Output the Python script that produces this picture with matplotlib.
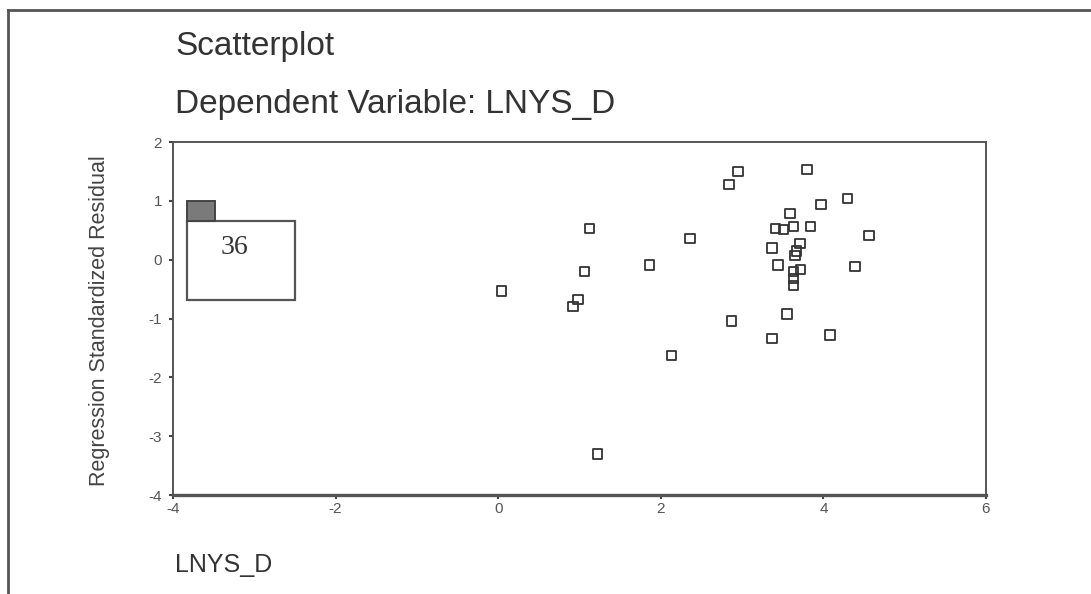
import matplotlib
matplotlib.use("Agg")
import matplotlib.pyplot as plt
from matplotlib.patches import Rectangle
from matplotlib.lines import Line2D

# Data
lnys_d = [0.04, 1.12, 1.06, 0.98, 0.92, 1.86, 2.36, 2.13, 1.22, 2.84, 2.95, 2.87,
          3.80, 3.97, 4.30, 3.59, 3.41, 3.51, 3.63, 3.84, 4.56, 3.71, 3.37, 3.67,
          3.65, 3.44, 3.72, 3.63, 3.63, 3.63, 4.39, 3.55, 3.37, 4.08]
std_resid = [-0.53, 0.53, -0.20, -0.68, -0.80, -0.09, 0.36, -1.63, -3.30, 1.28, 1.50, -1.04,
             1.53, 0.94, 1.04, 0.78, 0.53, 0.51, 0.56, 0.56, 0.41, 0.27, 0.20, 0.15,
             0.07, -0.09, -0.17, -0.20, -0.32, -0.44, -0.12, -0.92, -1.34, -1.28]
x_ticks = [-4, -2, 0, 2, 4, 6]
y_ticks = [2, 1, 0, -1, -2, -3, -4]
legend_label = "36"

plt.rcParams['font.family'] = ['Liberation Sans', 'DejaVu Sans']
fig = plt.figure(figsize=(10.91, 5.94), dpi=100)
fig.patch.set_facecolor('white')

ax = fig.add_axes([173/1091, 1-495/594, (986-173)/1091, (495-142)/594])
ax.scatter(lnys_d, std_resid, marker='s', s=46, facecolors='none',
           edgecolors='#333333', linewidths=1.3, zorder=3)
ax.set_xlim(-4, 6)
ax.set_ylim(-4, 2)
ax.set_xticks(x_ticks)
ax.set_yticks(y_ticks)
ax.set_xticklabels([str(t) for t in x_ticks])
ax.set_yticklabels([str(t) for t in y_ticks])
ax.tick_params(direction='out', length=3, width=1.5, color='#444444',
               labelsize=11, labelcolor='#555555')
ax.tick_params(axis='x', pad=2)
ax.tick_params(axis='y', pad=5)
for sp in ax.spines.values():
    sp.set_color('#555555')
    sp.set_linewidth(1.4)
ax.spines['bottom'].set_linewidth(2.4)

# legend-like box
ax.add_patch(Rectangle((0.0172, 0.552), 0.133, 0.224, transform=ax.transAxes,
                       facecolor='white', edgecolor='#555555', linewidth=1.6, zorder=4))
ax.add_patch(Rectangle((0.0172, 0.776), 0.0345, 0.057, transform=ax.transAxes,
                       facecolor='#7a7a7a', edgecolor='#444444', linewidth=1.4, zorder=4))
ax.text(0.076, 0.70, legend_label, transform=ax.transAxes, fontsize=20,
        family=['Liberation Serif', 'DejaVu Serif'], color='#333333',
        ha='center', va='center', zorder=5)

# titles / labels
fig.text(175/1091, 1-46/594, "Scatterplot", fontsize=24, color='#333333',
         ha='left', va='center')
fig.text(175/1091, 1-104/594, "Dependent Variable: LNYS_D", fontsize=24,
         color='#333333', ha='left', va='center')
fig.text(175/1091, 1-565/594, "LNYS_D", fontsize=18, color='#333333',
         ha='left', va='center')
fig.text(100/1091, 1-321/594, "Regression Standardized Residual", fontsize=15.5,
         color='#444444', rotation=90, ha='center', va='center')

# outer frame (top and left edges)
fig.add_artist(Line2D([8/1091, 1.0], [1-10/594, 1-10/594], transform=fig.transFigure,
                      color='#555555', linewidth=2))
fig.add_artist(Line2D([8/1091, 8/1091], [0.0, 1-10/594], transform=fig.transFigure,
                      color='#555555', linewidth=2))

fig.savefig("out.png", dpi=100)
